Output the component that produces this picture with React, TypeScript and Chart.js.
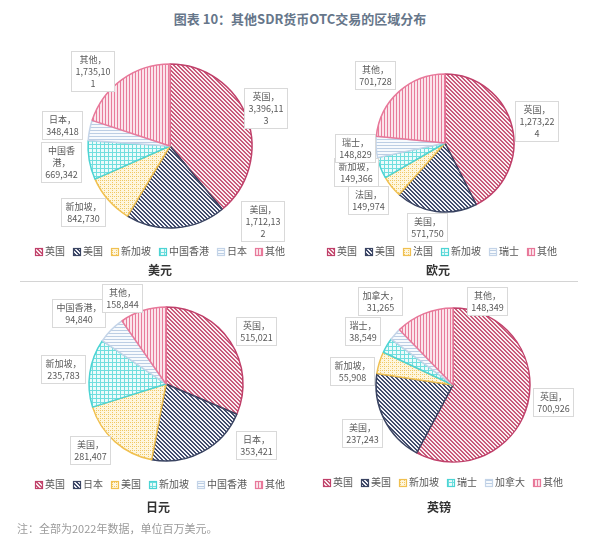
import React, { useEffect, useRef } from "react";
import { Chart, registerables } from "chart.js";

Chart.register(...registerables);

// ---------------- DATA ----------------
const usdCategories = ["英国", "美国", "新加坡", "中国香港", "日本", "其他"];
const usdValues = [3396113, 1712132, 842730, 669342, 348418, 1735101];

const eurCategories = ["英国", "美国", "法国", "新加坡", "瑞士", "其他"];
const eurValues = [1273224, 571750, 149974, 149366, 148829, 701728];

const jpyCategories = ["英国", "日本", "美国", "新加坡", "中国香港", "其他"];
const jpyValues = [515021, 353421, 281407, 235783, 94840, 158844];

const gbpCategories = ["英国", "美国", "新加坡", "瑞士", "加拿大", "其他"];
const gbpValues = [700926, 237243, 55908, 38549, 31265, 148349];

const chartTitle = "图表 10：其他SDR货币OTC交易的区域分布";
const footnote = "注：全部为2022年数据，单位百万美元。";
const subTitles = ["美元", "欧元", "日元", "英镑"];

// ---------------- STYLE ----------------
const BORDER = ["#c0406a", "#3a4462", "#f0c050", "#4cd4d4", "#c4d4e8", "#e8789a"];
const CJK = '"Noto Sans CJK SC", "Noto Sans", sans-serif';

function makeTile(kind: number): HTMLCanvasElement {
  const size = 12;
  const c = document.createElement("canvas");
  c.width = size;
  c.height = size;
  const ctx = c.getContext("2d")!;
  const img = ctx.createImageData(size, size);
  const mod = (a: number, n: number) => ((a % n) + n) % n;
  for (let y = 0; y < size; y++) {
    for (let x = 0; x < size; x++) {
      let col = [255, 255, 255];
      if (kind === 0) {
        col = mod(x - y, 4) < 2 ? [200, 90, 122] : [251, 238, 242];
      } else if (kind === 1) {
        col = mod(x - y, 4) < 2 ? [66, 76, 108] : [244, 245, 250];
      } else if (kind === 2) {
        col = (x % 4 === 0 || y % 4 === 0) && (x + y) % 2 === 0 ? [240, 200, 100] : [254, 246, 222];
      } else if (kind === 3) {
        col = x % 4 === 0 || y % 4 === 0 ? [112, 222, 222] : [236, 251, 251];
      } else if (kind === 4) {
        col = y % 3 === 0 ? [188, 206, 228] : [247, 250, 253];
      } else {
        col = x % 3 === 0 ? [232, 124, 155] : [251, 228, 235];
      }
      const i = (y * size + x) * 4;
      img.data[i] = col[0];
      img.data[i + 1] = col[1];
      img.data[i + 2] = col[2];
      img.data[i + 3] = 255;
    }
  }
  ctx.putImageData(img, 0, 0);
  return c;
}

type Cfg = {
  categories: string[];
  values: number[];
  subtitle: string;
  panel: { left: number; top: number; width: number; height: number };
  pie: { cx: number; cy: number; r: number };
  legend: { cx: number; y: number };
  sub: { cx: number; y: number };
  wrap: number;
  labelOffsets: number[][];
};

const configs: Cfg[] = [
  {
    categories: usdCategories,
    values: usdValues,
    subtitle: subTitles[0],
    panel: { left: 0, top: 40, width: 300, height: 242 },
    pie: { cx: 170, cy: 106, r: 82 },
    legend: { cx: 160, y: 211 },
    sub: { cx: 160, y: 230 },
    wrap: 37.5,
    labelOffsets: [
      [1.17, -0.46],
      [1.13, 0.91],
      [-1.06, 0.8],
      [-1.33, 0.2],
      [-1.32, -0.26],
      [-0.95, -0.91],
    ],
  },
  {
    categories: eurCategories,
    values: eurValues,
    subtitle: subTitles[1],
    panel: { left: 300, top: 40, width: 300, height: 242 },
    pie: { cx: 145, cy: 103, r: 69 },
    legend: { cx: 142, y: 211 },
    sub: { cx: 138, y: 230 },
    wrap: 37.5,
    labelOffsets: [
      [1.33, -0.32],
      [-0.26, 1.22],
      [-1.12, 0.83],
      [-1.29, 0.42],
      [-1.3, 0.07],
      [-1.01, -0.99],
    ],
  },
  {
    categories: jpyCategories,
    values: jpyValues,
    subtitle: subTitles[2],
    panel: { left: 0, top: 282, width: 300, height: 255 },
    pie: { cx: 166, cy: 102, r: 77 },
    legend: { cx: 160, y: 202 },
    sub: { cx: 158, y: 225 },
    wrap: 50,
    labelOffsets: [
      [1.17, -0.69],
      [1.17, 0.79],
      [-0.99, 0.86],
      [-1.34, -0.19],
      [-1.14, -0.92],
      [-0.57, -1.12],
    ],
  },
  {
    categories: gbpCategories,
    values: gbpValues,
    subtitle: subTitles[3],
    panel: { left: 300, top: 282, width: 300, height: 255 },
    pie: { cx: 153, cy: 103, r: 77 },
    legend: { cx: 143, y: 200 },
    sub: { cx: 139, y: 225 },
    wrap: 50,
    labelOffsets: [
      [1.3, 0.22],
      [-1.18, 0.62],
      [-1.31, -0.18],
      [-1.18, -0.7],
      [-0.95, -1.09],
      [0.44, -1.09],
    ],
  },
];

function wrapText(ctx: CanvasRenderingContext2D, text: string, maxW: number): string[] {
  const lines: string[] = [];
  let line = "";
  for (const ch of Array.from(text)) {
    if (line && ctx.measureText(line + ch).width > maxW) {
      if (ch === "，" && line.length > 1) {
        const last = line.slice(-1);
        lines.push(line.slice(0, -1));
        line = last + ch;
      } else {
        lines.push(line);
        line = ch;
      }
    } else {
      line += ch;
    }
  }
  if (line) lines.push(line);
  return lines;
}

function PieChart({ cfg }: { cfg: Cfg }) {
  const ref = useRef<HTMLCanvasElement>(null);
  useEffect(() => {
    const canvas = ref.current!;
    const ctx0 = canvas.getContext("2d")!;
    const patterns = BORDER.map((_, i) => ctx0.createPattern(makeTile(i), "repeat")!);
    const bw = 1.5;
    const { cx, cy, r } = cfg.pie;
    const W = cfg.panel.width;
    const H = cfg.panel.height;

    const overlay = {
      id: "overlay",
      afterDraw(chart: any) {
        const ctx: CanvasRenderingContext2D = chart.ctx;
        const meta = chart.getDatasetMeta(0);
        ctx.save();
        // data labels
        ctx.font = `9px ${CJK}`;
        ctx.textAlign = "center";
        ctx.textBaseline = "middle";
        meta.data.forEach((arc: any, i: number) => {
          const off = cfg.labelOffsets[i];
          const lx = arc.x + off[0] * arc.outerRadius;
          const ly = arc.y + off[1] * arc.outerRadius;
          const lines = [
            ...wrapText(ctx, cfg.categories[i] + "，", cfg.wrap),
            ...wrapText(ctx, cfg.values[i].toLocaleString("en-US"), cfg.wrap),
          ];
          const lh = 12;
          const tw = Math.max(...lines.map((l) => ctx.measureText(l).width));
          const bwid = Math.round(tw + 8);
          const bh = lines.length * lh + 4;
          const bx = Math.round(lx - bwid / 2) + 0.5;
          const by = Math.round(ly - bh / 2) + 0.5;
          ctx.fillStyle = "#ffffff";
          ctx.fillRect(bx, by, bwid, bh);
          ctx.strokeStyle = "#d9d9d9";
          ctx.lineWidth = 1;
          ctx.strokeRect(bx, by, bwid, bh);
          ctx.fillStyle = "#595959";
          lines.forEach((l, k) => {
            ctx.fillText(l, bx + bwid / 2, by + 2 + lh * k + lh / 2 + 0.5);
          });
        });
        // legend
        ctx.font = `10px ${CJK}`;
        ctx.textAlign = "left";
        const sw = 7;
        const gap = 8;
        const widths = cfg.categories.map((c) => sw + 3 + ctx.measureText(c).width);
        const total = widths.reduce((a, b) => a + b, 0) + gap * (widths.length - 1);
        let x = cfg.legend.cx - total / 2;
        const ly = cfg.legend.y;
        cfg.categories.forEach((c, i) => {
          const sx = Math.round(x) + 0.5;
          const sy = Math.round(ly - sw / 2) + 0.5;
          ctx.fillStyle = patterns[i];
          ctx.fillRect(sx, sy, sw, sw);
          ctx.strokeStyle = BORDER[i];
          ctx.lineWidth = 1.2;
          ctx.strokeRect(sx, sy, sw, sw);
          ctx.fillStyle = "#595959";
          ctx.fillText(c, x + sw + 3, ly + 0.5);
          x += widths[i] + gap;
        });
        // subtitle
        ctx.font = `bold 12px ${CJK}`;
        ctx.textAlign = "center";
        ctx.fillStyle = "#333333";
        ctx.fillText(cfg.subtitle, cfg.sub.cx, cfg.sub.y);
        ctx.restore();
      },
    };

    const chart = new Chart(canvas, {
      type: "pie",
      data: {
        labels: cfg.categories,
        datasets: [
          {
            data: cfg.values,
            backgroundColor: patterns as any,
            borderColor: BORDER,
            borderWidth: bw,
          },
        ],
      },
      options: {
        responsive: false,
        animation: false,
        events: [],
        layout: {
          padding: {
            left: cx - r - bw / 2,
            right: W - (cx + r + bw / 2),
            top: cy - r - bw / 2,
            bottom: H - (cy + r + bw / 2),
          },
        },
        plugins: {
          legend: { display: false },
          tooltip: { enabled: false },
        },
      },
      plugins: [overlay as any],
    });
    return () => chart.destroy();
  }, [cfg]);
  return (
    <canvas
      ref={ref}
      width={cfg.panel.width}
      height={cfg.panel.height}
      style={{
        position: "absolute",
        left: cfg.panel.left,
        top: cfg.panel.top,
        width: cfg.panel.width,
        height: cfg.panel.height,
      }}
    />
  );
}

export default function App() {
  return (
    <div
      style={{
        position: "absolute",
        left: 0,
        top: 0,
        width: 600,
        height: 537,
        background: "#ffffff",
        overflow: "hidden",
        fontFamily: CJK,
      }}
    >
      <div
        style={{
          position: "absolute",
          left: 0,
          top: 9,
          width: 600,
          textAlign: "center",
          fontSize: 13,
          fontWeight: "bold",
          color: "#66768a",
          lineHeight: "20px",
        }}
      >
        {chartTitle}
      </div>
      <div
        style={{
          position: "absolute",
          left: 20,
          top: 281,
          width: 558,
          height: 1,
          background: "#d4d4d4",
        }}
      />
      {configs.map((c, i) => (
        <PieChart key={i} cfg={c} />
      ))}
      <div
        style={{
          position: "absolute",
          left: 17,
          top: 520,
          fontSize: 11,
          color: "#9a9a9a",
          lineHeight: "16px",
          whiteSpace: "nowrap",
        }}
      >
        {footnote}
      </div>
    </div>
  );
}
